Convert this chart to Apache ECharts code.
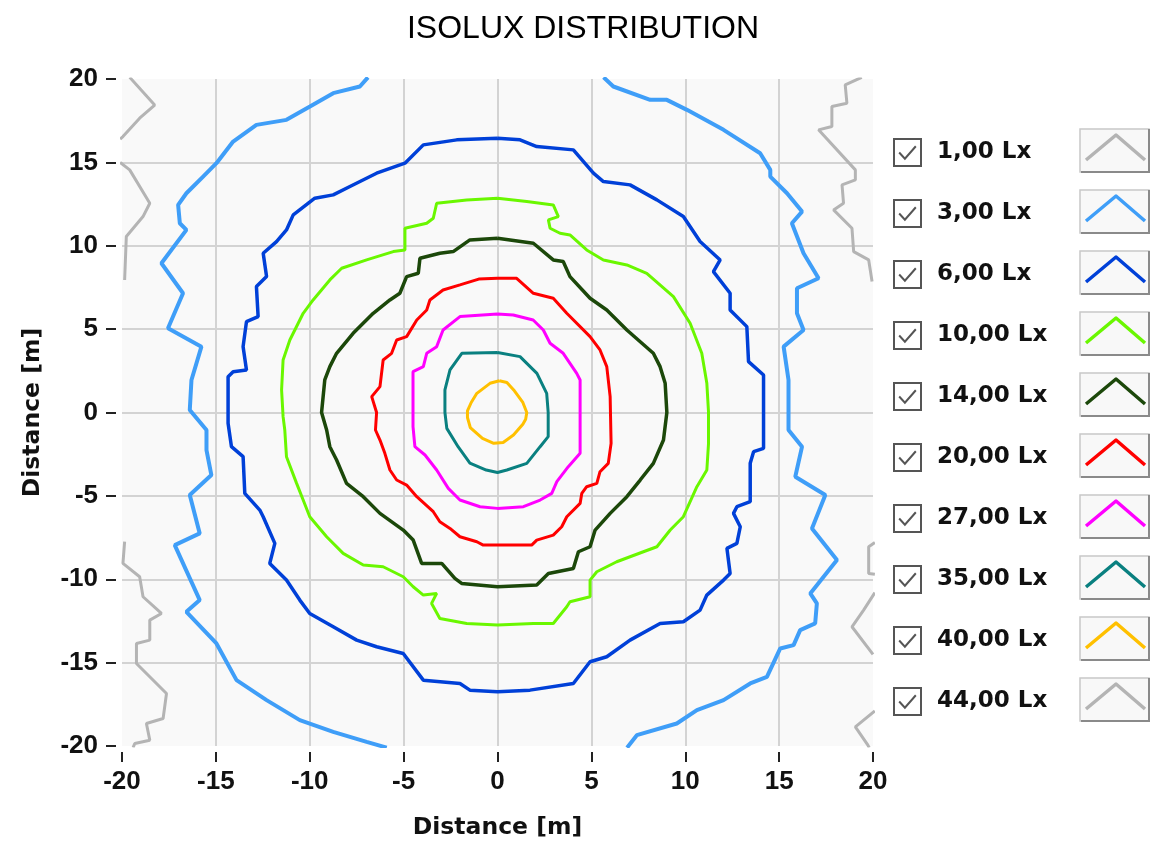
<!DOCTYPE html>
<html><head><meta charset="utf-8">
<script src="https://cdn.jsdelivr.net/npm/echarts@6/dist/echarts.min.js"></script>
<style>html,body{margin:0;padding:0;background:#fff}#c{width:1152px;height:845px}</style>
</head><body><div id="c"></div>
<script>
const titleText = 'ISOLUX DISTRIBUTION';
const axisName = 'Distance [m]';
const levelNames = ['1,00 Lx','3,00 Lx','6,00 Lx','10,00 Lx','14,00 Lx','20,00 Lx','27,00 Lx','35,00 Lx','40,00 Lx','44,00 Lx'];
const levelColors = ['#b4b4b4','#3f9ef8','#0040d8','#6af700','#1c480a','#ff0000','#ff00ff','#0a8080','#ffc000','#b4b4b4'];

// 1,00 Lx (pieces near the edges)
const lux1_a = [[-19.59,20.1],[-18.26,18.44],[-19.06,17.65],[-19.95,16.55],[-20.1,16.4]];
const lux1_b = [[-20.1,15.0],[-19.59,14.55],[-18.52,12.55],[-18.88,11.75],[-19.77,10.55],[-19.86,7.95]];
const lux1_c = [[-19.86,-7.75],[-19.95,-9.05],[-19.06,-9.85],[-18.88,-11.05],[-17.9,-12.05],[-18.52,-12.45],[-18.52,-13.65],[-19.23,-13.85],[-19.23,-15.05],[-17.63,-16.85],[-17.81,-18.35],[-18.7,-18.65],[-18.52,-19.65],[-19.32,-19.85],[-19.41,-20.1]];
const lux1_d = [[19.4,20.1],[18.52,19.65],[18.61,18.55],[17.81,18.35],[17.81,17.15],[17.1,16.95],[19.06,14.55],[19.06,13.95],[18.35,13.65],[18.43,12.55],[17.9,12.15],[18.88,11.05],[18.97,9.65],[19.77,9.15],[19.95,7.85]];
const lux1_e = [[20.1,-7.8],[19.77,-8.05],[19.77,-9.65],[20.1,-9.7]];
const lux1_f = [[20.1,-10.8],[19.5,-11.85],[18.88,-12.85],[20.0,-14.5]];
const lux1_g = [[20.1,-17.9],[19.06,-18.85],[19.7,-19.9],[19.8,-20.1]];

// 3,00 Lx (two open branches)
const lux3_left = [[-6.9,20.1],[-7.33,19.55],[-8.75,19.15],[-9.99,18.35],[-11.24,17.55],[-12.84,17.25],[-14.08,16.25],[-14.97,14.95],[-15.68,14.15],[-16.57,13.15],[-17.01,12.45],[-16.92,11.35],[-16.57,10.95],[-17.9,8.95],[-16.75,7.15],[-17.55,5.05],[-15.77,3.95],[-16.3,1.95],[-16.39,0.15],[-15.5,-1.05],[-15.5,-2.25],[-15.24,-3.75],[-16.39,-4.95],[-15.86,-7.25],[-17.19,-7.95],[-15.86,-11.25],[-16.57,-11.95],[-14.97,-13.85],[-13.9,-16.05],[-12.3,-17.25],[-10.53,-18.45],[-8.75,-19.15],[-6.97,-19.75],[-5.9,-20.1]];
const lux3_right = [[5.65,20.1],[6.17,19.55],[8.13,18.75],[9.02,18.75],[10.09,18.15],[12.04,16.95],[13.99,15.55],[14.53,14.55],[14.53,14.15],[15.42,13.15],[16.22,12.05],[15.68,11.35],[16.3,9.55],[17.1,8.05],[15.95,7.45],[15.95,5.95],[16.3,4.95],[15.24,3.95],[15.5,1.95],[15.5,-1.05],[16.22,-2.05],[15.86,-3.85],[17.46,-4.95],[16.75,-6.95],[18.08,-8.85],[16.66,-10.85],[17.01,-11.45],[16.92,-12.65],[16.12,-13.05],[15.77,-13.95],[15.06,-14.15],[14.35,-15.85],[13.46,-16.25],[12.04,-17.25],[10.62,-17.85],[9.55,-18.65],[7.42,-19.35],[6.9,-20.1]];

// 6,00 Lx
const lux6 = [[0,16.45],[1.2,16.35],[2.09,15.95],[4.04,15.75],[5.11,14.35],[5.64,13.85],[7.06,13.65],[8.49,12.75],[9.9,11.75],[10.79,10.25],[11.86,9.15],[11.5,8.45],[12.39,7.15],[12.39,6.15],[13.28,5.15],[13.37,3.05],[14.17,2.25],[14.17,-2.15],[13.64,-2.35],[13.46,-3.05],[13.46,-5.35],[12.75,-5.65],[12.57,-6.05],[12.93,-6.85],[12.75,-7.85],[12.22,-8.15],[12.39,-9.65],[12.04,-10.05],[11.15,-10.95],[10.79,-11.85],[9.9,-12.55],[8.66,-12.65],[7.06,-13.65],[5.82,-14.65],[4.93,-14.95],[4.04,-16.25],[1.73,-16.65],[0,-16.75],[-1.47,-16.65],[-2.0,-16.25],[-3.95,-16.05],[-5.02,-14.45],[-6.44,-14.05],[-7.5,-13.65],[-8.75,-12.85],[-10.0,-12.05],[-10.53,-11.25],[-11.24,-10.05],[-12.13,-9.05],[-11.86,-7.85],[-12.48,-6.25],[-12.66,-5.85],[-13.46,-4.85],[-13.55,-2.65],[-14.17,-2.05],[-14.35,-0.65],[-14.35,2.15],[-14.08,2.45],[-13.37,2.55],[-13.55,3.95],[-13.37,5.45],[-12.75,5.75],[-12.84,7.55],[-12.3,8.15],[-12.48,9.55],[-11.77,10.25],[-11.24,10.95],[-10.88,11.85],[-9.73,12.85],[-8.75,13.05],[-7.86,13.55],[-6.44,14.35],[-4.93,14.95],[-3.95,16.05],[-2.17,16.35],[0,16.45]];

// 10,00 Lx
const lux10 = [[0,12.85],[1.56,12.65],[2.97,12.45],[3.24,11.75],[2.71,11.55],[2.8,11.05],[3.33,10.75],[3.86,10.65],[4.75,9.75],[5.64,9.15],[6.89,8.85],[7.95,8.35],[9.37,6.95],[10.26,5.35],[10.88,3.55],[11.15,1.75],[11.24,0],[11.24,-1.85],[11.15,-3.45],[10.62,-4.45],[9.9,-6.25],[9.2,-7.05],[8.49,-8.05],[7.77,-8.35],[6.35,-8.95],[5.29,-9.55],[4.93,-10.05],[4.93,-11.05],[3.86,-11.35],[3.69,-11.65],[2.97,-12.65],[1.91,-12.65],[0,-12.75],[-1.64,-12.65],[-3.07,-12.35],[-3.51,-11.45],[-3.24,-10.85],[-3.95,-10.95],[-4.49,-10.45],[-5.02,-9.85],[-6.09,-9.25],[-7.15,-9.15],[-8.22,-8.45],[-9.1,-7.45],[-10.0,-6.25],[-10.35,-5.25],[-10.7,-4.25],[-11.24,-2.65],[-11.33,-1.05],[-11.42,-0.25],[-11.5,1.35],[-11.42,3.15],[-11.06,4.35],[-10.35,5.95],[-9.82,6.75],[-8.93,7.95],[-8.3,8.65],[-6.97,9.15],[-5.55,9.65],[-4.93,9.75],[-4.93,11.05],[-3.77,11.35],[-3.42,11.65],[-3.24,12.55],[-1.64,12.75],[0,12.85]];

// 14,00 Lx
const lux14 = [[0,10.45],[1.91,10.15],[2.97,9.15],[3.5,9.05],[3.86,8.15],[4.93,6.85],[5.82,6.15],[6.89,4.95],[8.3,3.55],[8.66,2.75],[8.93,1.75],[9.02,0],[8.84,-1.65],[8.3,-3.05],[7.6,-4.05],[6.89,-5.05],[6.0,-6.05],[5.2,-7.05],[4.93,-8.05],[4.31,-8.35],[4.04,-9.35],[2.71,-9.65],[2.09,-10.35],[0,-10.45],[-1.91,-10.25],[-2.27,-9.95],[-2.97,-9.05],[-4.04,-9.05],[-4.49,-7.65],[-5.02,-7.05],[-6.26,-6.05],[-7.15,-5.05],[-8.04,-4.25],[-8.57,-2.85],[-8.93,-2.05],[-9.1,-1.05],[-9.37,0],[-9.2,1.95],[-8.93,2.75],[-8.57,3.55],[-7.69,4.75],[-6.62,5.95],[-5.73,6.75],[-5.2,7.15],[-4.84,8.15],[-4.22,8.35],[-4.13,9.25],[-3.07,9.55],[-2.36,9.65],[-1.47,10.35],[0,10.45]];

// 20,00 Lx
const lux20 = [[0,8.05],[1.02,8.05],[1.91,7.15],[2.97,6.85],[3.69,5.95],[4.93,4.55],[5.46,3.75],[5.82,2.75],[6.0,0.95],[6.05,-1.85],[5.9,-3.05],[5.46,-3.55],[5.29,-4.25],[4.75,-4.45],[4.49,-4.85],[4.4,-5.45],[3.69,-6.25],[3.42,-6.85],[2.97,-7.35],[2.09,-7.65],[1.82,-7.95],[-0.76,-7.95],[-1.1,-7.75],[-2.0,-7.45],[-2.53,-6.95],[-3.07,-6.55],[-3.42,-5.95],[-4.3,-5.05],[-4.84,-4.35],[-5.37,-4.05],[-5.73,-3.45],[-6.0,-2.45],[-6.26,-1.65],[-6.5,-1.05],[-6.44,0],[-6.7,0.95],[-6.26,1.55],[-6.09,3.15],[-5.64,3.55],[-5.37,4.35],[-4.84,4.55],[-4.3,5.55],[-3.77,6.15],[-3.6,6.75],[-2.9,7.35],[-2.0,7.65],[-1.0,8.0],[0,8.05]];

// 27,00 Lx
const lux27 = [[0,5.9],[0.84,5.85],[1.9,5.55],[2.44,4.95],[2.8,4.15],[3.5,3.55],[4.22,2.35],[4.4,1.95],[4.4,-2.45],[3.77,-3.25],[3.16,-4.15],[2.89,-4.85],[2.27,-5.25],[1.38,-5.65],[0,-5.75],[-0.93,-5.65],[-2.0,-5.25],[-2.62,-4.55],[-3.24,-3.45],[-3.86,-2.55],[-4.4,-2.05],[-4.5,-0.85],[-4.5,2.45],[-3.95,2.75],[-3.77,3.55],[-3.24,3.95],[-2.9,4.95],[-2.0,5.75],[0,5.9]];

// 35,00 Lx
const lux35 = [[0,3.6],[1.2,3.35],[2.1,2.35],[2.62,1.15],[2.7,0],[2.7,-1.45],[2.27,-2.05],[1.56,-3.05],[0.5,-3.45],[0,-3.6],[-0.6,-3.45],[-1.47,-3.03],[-2.1,-2.05],[-2.7,-0.95],[-2.8,0],[-2.8,1.35],[-2.53,2.55],[-1.9,3.55],[0,3.6]];

// 40,00 Lx
const lux40 = [[0.1,1.9],[0.5,1.8],[0.9,1.3],[1.35,0.6],[1.56,0.0],[1.5,-0.4],[1.35,-0.7],[0.85,-1.35],[0.3,-1.8],[-0.2,-1.85],[-0.8,-1.55],[-1.45,-0.9],[-1.6,-0.3],[-1.6,0.1],[-1.4,0.6],[-1.1,1.15],[-0.4,1.75],[0.1,1.9]];

// 44,00 Lx (no visible contour)
const lux44 = [];

const contourParts = [
  [0, lux1_a],[0, lux1_b],[0, lux1_c],[0, lux1_d],[0, lux1_e],[0, lux1_f],[0, lux1_g],
  [1, lux3_left],[1, lux3_right],
  [2, lux6],[3, lux10],[4, lux14],[5, lux20],[6, lux27],[7, lux35],[8, lux40],[9, lux44]
];
const lineWidths = [3, 4, 3.5, 3, 3.5, 3, 3, 3, 3, 3];

const labelFont = 'DejaVu Sans';
const tickFont = "'Liberation Sans', Arial";
const series = contourParts.map(([li, pts]) => ({
  type: 'line',
  name: levelNames[li],
  data: pts,
  showSymbol: false,
  symbol: 'none',
  smooth: false,
  clip: true,
  color: levelColors[li],
  lineStyle: { color: levelColors[li], width: lineWidths[li] },
  emphasis: { disabled: true },
  z: 3
}));

// legend swatches (decoration boxes on the right)
const graphics = [];
levelNames.forEach((n, i) => {
  const top = 129 + i * 61;
  graphics.push({ type: 'rect', shape: { x: 1080, y: top, width: 69, height: 43 }, style: { fill: '#f8f8f8', stroke: '#c8c8c8', lineWidth: 1.5 }, z: 10 });
  graphics.push({ type: 'polyline', shape: { points: [[1081, top + 43], [1149, top + 43], [1149, top]] }, style: { stroke: '#8a8a8a', lineWidth: 2, fill: null }, z: 11 });
  graphics.push({ type: 'polyline', shape: { points: [[1086, top + 31], [1116, top + 6], [1145, top + 31]] }, style: { stroke: levelColors[i], lineWidth: 3.5, fill: null, lineJoin: 'round' }, z: 12 });
});

const chart = echarts.init(document.getElementById('c'), null, { renderer: 'canvas' });
chart.setOption({
  animation: false,
  backgroundColor: '#ffffff',
  title: {
    text: titleText, left: 578, top: 8, textAlign: 'center',
    textStyle: { fontFamily: "'Liberation Sans Narrow', 'Liberation Sans', Arial", fontWeight: 'normal', fontSize: 32, color: '#000' }
  },
  grid: { left: 122, right: 279, top: 79, bottom: 99, show: true, backgroundColor: '#f9f9f9', borderWidth: 0, containLabel: false },
  legend: {
    orient: 'vertical', left: 888, top: 133,
    itemWidth: 27, itemHeight: 27, itemGap: 32,
    icon: 'path://M0,0H26V26H0Z M5,13L10.5,19L21,7',
    itemStyle: { color: 'rgba(0,0,0,0)', borderColor: '#555555', borderWidth: 2 },
    textStyle: { fontFamily: labelFont, fontWeight: 'bold', fontSize: 23, color: '#111', padding: [0, 0, 0, 11] },
    data: levelNames,
    selectedMode: false
  },
  xAxis: {
    type: 'value', min: -20, max: 20, interval: 5, offset: 6,
    axisLine: { show: false, onZero: false },
    axisTick: { show: true, length: 10, lineStyle: { color: '#222', width: 2 } },
    axisLabel: { margin: 17, fontFamily: tickFont, fontWeight: 'bold', fontSize: 26, color: '#111' },
    splitLine: { show: true, showMinLine: false, showMaxLine: false, lineStyle: { color: '#d3d3d3', width: 2 } },
    name: axisName, nameLocation: 'middle', nameGap: 64,
    nameTextStyle: { fontFamily: labelFont, fontWeight: 'bold', fontSize: 23.5, color: '#111' }
  },
  yAxis: {
    type: 'value', min: -20, max: 20, interval: 5, offset: 6,
    axisLine: { show: false, onZero: false },
    axisTick: { show: true, length: 10, lineStyle: { color: '#222', width: 2 } },
    axisLabel: { margin: 18, fontFamily: tickFont, fontWeight: 'bold', fontSize: 26, color: '#111' },
    splitLine: { show: true, showMinLine: false, showMaxLine: false, lineStyle: { color: '#d3d3d3', width: 2 } },
    name: axisName, nameLocation: 'middle', nameGap: 71, nameRotate: 90,
    nameTextStyle: { fontFamily: labelFont, fontWeight: 'bold', fontSize: 23.5, color: '#111' }
  },
  graphic: graphics,
  series: series
});
</script>
</body></html>
